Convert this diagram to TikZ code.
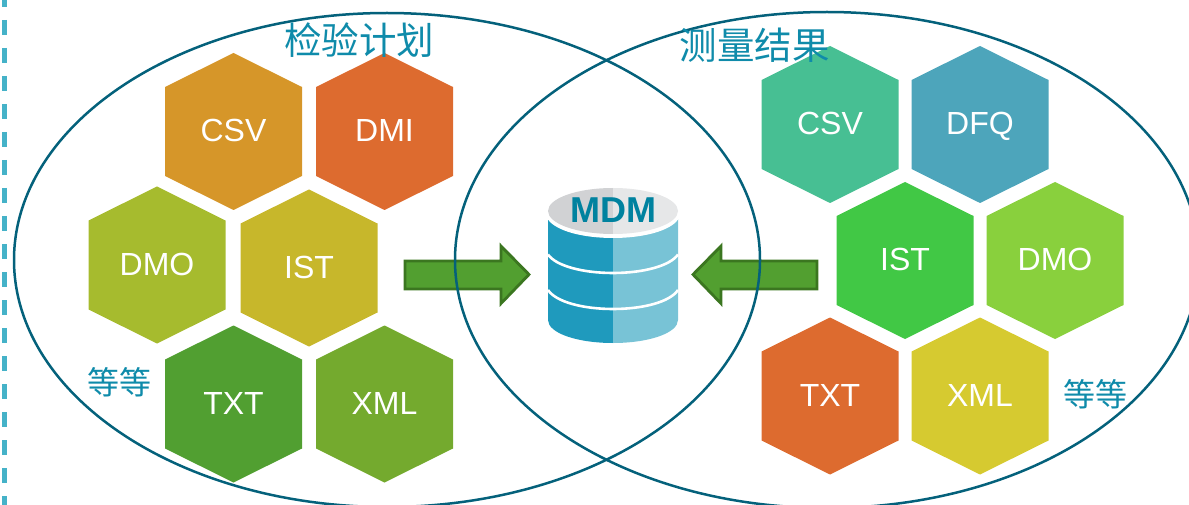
\documentclass[tikz,border=0pt]{standalone}
\usepackage{fontspec}
\setmainfont{Liberation Sans}
\newfontfamily\cjk{Noto Sans CJK SC}
\definecolor{ring}{HTML}{04617B}
\definecolor{titlec}{HTML}{0F8BAA}
\definecolor{dashc}{HTML}{45B2C8}
\definecolor{arrowf}{HTML}{529F30}
\definecolor{arrowd}{HTML}{3B7620}
\definecolor{cyla}{HTML}{1F9ABD}
\definecolor{cylb}{HTML}{78C3D6}
\definecolor{capa}{HTML}{D1D2D4}
\definecolor{capb}{HTML}{E6E7E8}
\definecolor{mdmc}{HTML}{00829F}
\definecolor{hcsv}{HTML}{D69629}
\definecolor{hdmi}{HTML}{DD6B2F}
\definecolor{hdmo}{HTML}{A6BB2E}
\definecolor{hist}{HTML}{C7B72B}
\definecolor{htxt}{HTML}{519F31}
\definecolor{hxml}{HTML}{74AA2E}
\definecolor{rcsv}{HTML}{47BF93}
\definecolor{rdfq}{HTML}{4DA5BB}
\definecolor{rist}{HTML}{41C845}
\definecolor{rdmo}{HTML}{89D03D}
\definecolor{rxml}{HTML}{D6CA30}
\tikzset{
  ringline/.style={draw=ring,line width=2.5pt},
  hexlabel/.style={text=white,font=\fontsize{32}{36}\selectfont,inner sep=0pt,text height=23pt,text depth=0pt,yshift=1pt},
  cjklabel/.style={text=titlec,font=\cjk\fontsize{37.5}{40}\selectfont,inner sep=0pt},
  smalllabel/.style={text=titlec,font=\cjk\fontsize{32}{34}\selectfont,inner sep=0pt},
  flow/.style={fill=arrowf,draw=arrowd,line width=2.8pt,miter limit=10},
  bandline/.style={draw=white,line width=2.6pt},
}
\newcommand{\hexa}[5]{%
  \fill[#4] (#2,#3) +(0,-78.5) -- +(68.5,-44.5) -- +(68.5,44.5) -- +(0,78.5) -- +(-68.5,44.5) -- +(-68.5,-44.5) -- cycle;
  \node[hexlabel] (#1) at (#2,#3) {#5};}
\begin{document}
\begin{tikzpicture}[x=1pt,y=-1pt]
\useasboundingbox (0,0) rectangle (1189,505);
\begin{scope}
\clip (0,0) rectangle (1189,505);
\draw[dashc,line width=5pt,dash pattern=on 15pt off 13pt] (4,-8) -- (4,505);
\hexa{a1}{233.5}{131.5}{hcsv}{CSV}
\hexa{a2}{384.5}{131.5}{hdmi}{DMI}
\hexa{a3}{157}{265}{hdmo}{DMO}
\hexa{a4}{309}{268}{hist}{IST}
\hexa{a5}{233.5}{404}{htxt}{TXT}
\hexa{a6}{384.5}{404}{hxml}{XML}
\hexa{b1}{830}{124.5}{rcsv}{CSV}
\hexa{b2}{980}{124.5}{rdfq}{DFQ}
\hexa{b3}{905}{260.5}{rist}{IST}
\hexa{b4}{1055}{260.5}{rdmo}{DMO}
\hexa{b5}{830}{396}{hdmi}{TXT}
\hexa{b6}{980}{396}{rxml}{XML}
% block arrows
\draw[flow] (405,261) -- (501,261) -- (501,246) -- (529,274.5) -- (501,303.5) -- (501,289) -- (405,289) -- cycle;
\draw[flow] (817,261) -- (721,261) -- (721,246) -- (693,274.5) -- (721,303.5) -- (721,289) -- (817,289) -- cycle;
% database
\fill[cyla] (613,213) -- (548,213) -- (548,320) .. controls (548,333) and (577,343) .. (613,343) -- cycle;
\fill[cylb] (613,213) -- (678,213) -- (678,320) .. controls (678,333) and (649,343) .. (613,343) -- cycle;
\fill[white] (546,205) -- (546,218) -- (548,219.5) .. controls (556,231) and (583,238) .. (613,238) .. controls (643,238) and (670,231) .. (678,219.5) -- (680,218) -- (680,205) -- cycle;
\draw[bandline] (548,254.5) .. controls (556,266) and (583,273) .. (613,273) .. controls (643,273) and (670,266) .. (678,254.5);
\draw[bandline] (548,290) .. controls (556,302) and (583,309) .. (613,309) .. controls (643,309) and (670,302) .. (678,290);
\fill[capa] (613,188) arc[start angle=90,end angle=270,x radius=65,y radius=-23] -- cycle;
\fill[capb] (613,188) arc[start angle=90,end angle=-90,x radius=65,y radius=-23] -- cycle;
\node[text=mdmc,font=\bfseries\fontsize{36}{38}\selectfont,inner sep=0pt] (mdm) at (613.5,210) {MDM};
% rings
\draw[ringline] (387,260) ellipse[x radius=373,y radius=247];
\draw[ringline] (827,260) ellipse[x radius=372,y radius=248];
\node[cjklabel] (t1) at (359,40) {检验计划};
\node[cjklabel] (t2) at (754.5,45) {测量结果};
\node[smalllabel] (e1) at (119.5,382) {等等};
\node[smalllabel] (e2) at (1095.5,394) {等等};
\end{scope}
\end{tikzpicture}
\end{document}
